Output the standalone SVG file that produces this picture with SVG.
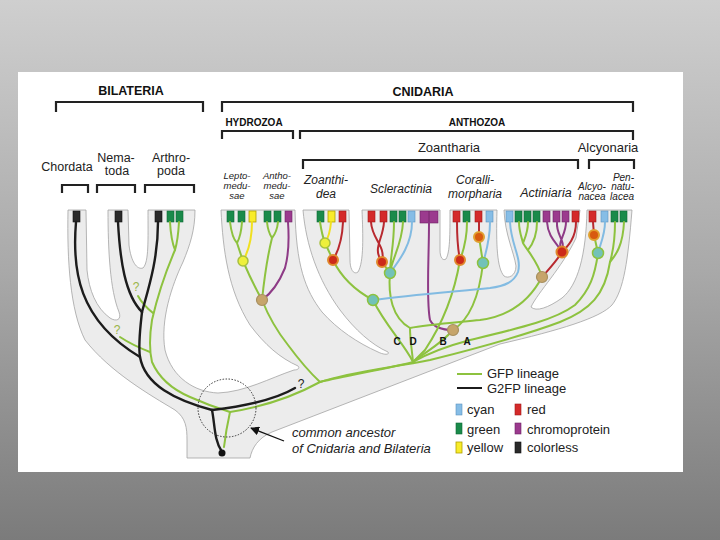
<svg xmlns="http://www.w3.org/2000/svg" width="720" height="540" viewBox="0 0 720 540">
<defs>
<linearGradient id="bg" x1="0" y1="0" x2="0" y2="1">
<stop offset="0" stop-color="#cfcfcf"/><stop offset="0.5" stop-color="#a9a9a9"/><stop offset="1" stop-color="#7b7b7b"/>
</linearGradient>
<marker id="ah" viewBox="0 0 10 10" refX="9" refY="5" markerWidth="9" markerHeight="9" markerUnits="userSpaceOnUse" orient="auto"><path d="M0 0 L10 5 L0 10 Z" fill="#111"/></marker>
<style>
.hd{font-family:"Liberation Sans",Arial,sans-serif;font-weight:bold;fill:#111;text-anchor:middle}
.tx{font-family:"Liberation Sans",Arial,sans-serif;fill:#222;text-anchor:middle}
.it{font-family:"Liberation Sans",Arial,sans-serif;font-style:italic;fill:#222;text-anchor:middle}
.ite{font-family:"Liberation Sans",Arial,sans-serif;font-style:italic;fill:#222;text-anchor:end}
.its{font-family:"Liberation Sans",Arial,sans-serif;font-style:italic;fill:#222;text-anchor:start}
.br{fill:none;stroke:#222;stroke-width:2.2}
.sil{fill:#ececec;stroke:#a3a3a3;stroke-width:0.8}
.g{fill:none;stroke:#8dc23f;stroke-width:2;stroke-linecap:round}
.b{fill:none;stroke:#1c1c1c;stroke-width:2.4;stroke-linecap:round}
.r{fill:none;stroke:#b8292f;stroke-width:2;stroke-linecap:round}
.p{fill:none;stroke:#8e3b86;stroke-width:2;stroke-linecap:round}
.c{fill:none;stroke:#82bbe2;stroke-width:2;stroke-linecap:round}
.y{fill:none;stroke:#f0e020;stroke-width:2;stroke-linecap:round}
.bg{fill:#1a8a4a;stroke:#0f6a35;stroke-width:0.6}
.bc{fill:#86bde6;stroke:#5a93c0;stroke-width:0.6}
.brd{fill:#d42a2a;stroke:#a01818;stroke-width:0.6}
.by{fill:#f8ec2a;stroke:#b0a000;stroke-width:0.8}
.bp{fill:#9b3a8e;stroke:#6e2466;stroke-width:0.6}
.bk{fill:#2a2a2a;stroke:#111;stroke-width:0.6}
.ny{fill:#eef03c;stroke:#a8c040;stroke-width:1.5}
.nr{fill:#cc2a1a;stroke:#e0882c;stroke-width:2}
.no{fill:#d85a10;stroke:#e0a030;stroke-width:2}
.nc{fill:#72c2b8;stroke:#8dc23f;stroke-width:1.5}
.nt{fill:#c6a56b;stroke:#a89060;stroke-width:1.2}
.lg{font-family:"Liberation Sans",Arial,sans-serif;font-size:13px;fill:#222}
.q{font-family:"Liberation Sans",Arial,sans-serif;font-size:12px;fill:#9ab548;text-anchor:middle}
.lb{font-family:"Liberation Sans",Arial,sans-serif;font-size:10px;font-weight:bold;fill:#111;text-anchor:middle}
</style>
</defs>
<rect x="0" y="0" width="720" height="540" fill="url(#bg)"/>
<rect x="18" y="72" width="665" height="400" fill="#fff"/>

<g id="silhouette">
<path class="sil" d="M187 458 L250 458 C252 448 258 438 272 432 L500 344 C560 330 600 318 612 305 C624 290 628 260 632 210 L587 210 C586 255 578 285 562 298 C548 308 536 312 531 307 C538 292 562 268 576 238 L580 210 L504 210 C505 235 514 252 516 266 C516 276 508 279 504 276 C497 268 496 245 497 210 L450 210 C450 235 450 252 446 259 C443 261 440 258 440 250 L440 210 L362 210 C363 235 364 262 358 272 C354 275 350 270 350 260 L349 210 L303 210 C306 245 318 280 340 310 C355 330 372 345 388 352 C390 355 384 355 378 352 C358 343 338 330 322 312 C305 290 296 265 295 210 L221 210 C223 250 228 290 250 325 C265 345 280 358 298 366 C300 368 298 370 294 370 C270 378 245 392 218 393 C195 392 172 378 165 350 C160 320 172 285 183 262 C190 245 195 230 195 210 L148 210 C148 240 149 262 143 268 C137 270 131 262 129 245 L128 210 L108 210 C108 250 110 290 119 312 C122 320 116 322 110 318 C96 308 89 290 87 270 L86 210 L68 210 C67 260 70 310 85 340 C110 372 150 395 175 410 C186 418 187 428 187 440 Z"/>
</g>

<g id="headers">
<text class="hd" x="131" y="95" font-size="12.5">BILATERIA</text>
<path class="br" d="M56 112 V102 H203 V112"/>
<text class="hd" x="423" y="96" font-size="12.5">CNIDARIA</text>
<path class="br" d="M222 112 V102 H633 V112"/>
<text class="hd" x="254" y="126" font-size="10">HYDROZOA</text>
<path class="br" d="M222 139 V131 H293 V139"/>
<text class="hd" x="477" y="126" font-size="10">ANTHOZOA</text>
<path class="br" d="M300 139 V131 H633 V140"/>
<text class="tx" x="449" y="152" font-size="13">Zoantharia</text>
<path class="br" d="M303 169 V160 H578 V169"/>
<text class="tx" x="608" y="152" font-size="13">Alcyonaria</text>
<path class="br" d="M589 169 V160 H634 V169"/>
</g>

<g id="chordata">
<text class="tx" x="67" y="171" font-size="12.5">Chordata</text>
<path class="br" d="M62 193 V185 H88 V193"/>
<rect class="bk" x="73" y="211" width="7" height="11"/>
</g>
<g id="nematoda">
<text class="tx" x="116" y="162" font-size="12.5">Nema-</text>
<text class="tx" x="117" y="175" font-size="12.5">toda</text>
<path class="br" d="M97 193 V185 H135 V193"/>
<rect class="bk" x="115" y="211" width="7" height="11"/>
</g>
<g id="arthropoda">
<text class="tx" x="171" y="162" font-size="12.5">Arthro-</text>
<text class="tx" x="171" y="175" font-size="12.5">poda</text>
<path class="br" d="M145 193 V185 H194 V193"/>
<rect class="bk" x="155" y="211" width="7" height="11"/>
<rect class="bg" x="167" y="211" width="7" height="11"/>
<rect class="bg" x="176" y="211" width="7" height="11"/>
</g>

<g id="hydrozoa">
<text class="it" x="237" y="179" font-size="9.5">Lepto-</text>
<text class="it" x="237" y="189" font-size="9.5">medu-</text>
<text class="it" x="237" y="199" font-size="9.5">sae</text>
<text class="it" x="277" y="179" font-size="9.5">Antho-</text>
<text class="it" x="277" y="189" font-size="9.5">medu-</text>
<text class="it" x="277" y="199" font-size="9.5">sae</text>
<rect class="bg" x="227" y="211" width="7" height="11"/>
<rect class="bg" x="238" y="211" width="7" height="11"/>
<rect class="by" x="249" y="211" width="7" height="11"/>
<rect class="bg" x="264" y="211" width="7" height="11"/>
<rect class="bg" x="274" y="211" width="7" height="11"/>
<rect class="bp" x="285" y="211" width="7" height="11"/>
</g>
<g id="zoanthidea">
<text class="it" x="326" y="184" font-size="12">Zoanthi-</text>
<text class="it" x="326" y="198" font-size="12">dea</text>
<rect class="bg" x="317" y="211" width="7" height="11"/>
<rect class="by" x="328" y="211" width="7" height="11"/>
<rect class="brd" x="339" y="211" width="7" height="11"/>
</g>
<g id="scleractinia">
<text class="it" x="401" y="193" font-size="12">Scleractinia</text>
<rect class="brd" x="368" y="211" width="7" height="11"/>
<rect class="brd" x="380" y="211" width="7" height="11"/>
<rect class="bg" x="390" y="211" width="7" height="11"/>
<rect class="bg" x="399" y="211" width="7" height="11"/>
<rect class="bc" x="408" y="211" width="7" height="11"/>
<rect class="bp" x="420" y="211" width="18" height="12"/>
<line x1="429" y1="211" x2="429" y2="223" stroke="#6e2466" stroke-width="0.8"/>
</g>
<g id="corallimorpharia">
<text class="it" x="475" y="184" font-size="12">Coralli-</text>
<text class="it" x="475" y="198" font-size="12">morpharia</text>
<rect class="brd" x="453" y="211" width="7" height="11"/>
<rect class="bg" x="463" y="211" width="7" height="11"/>
<rect class="brd" x="475" y="211" width="7" height="11"/>
<rect class="bc" x="486" y="211" width="7" height="11"/>
</g>
<g id="actiniaria">
<text class="it" x="546" y="197" font-size="12.5">Actiniaria</text>
<rect class="bc" x="506" y="211" width="7" height="11"/>
<rect class="bg" x="515" y="211" width="7" height="11"/>
<rect class="bg" x="524" y="211" width="7" height="11"/>
<rect class="bg" x="533" y="211" width="7" height="11"/>
<rect class="bp" x="543" y="211" width="7" height="11"/>
<rect class="bp" x="553" y="211" width="7" height="11"/>
<rect class="bp" x="562" y="211" width="7" height="11"/>
<rect class="brd" x="572" y="211" width="7" height="11"/>
</g>
<g id="alcyonacea">
<text class="it" x="592" y="190" font-size="10">Alcyo-</text>
<text class="it" x="592" y="200" font-size="10">nacea</text>
<rect class="brd" x="589" y="211" width="7" height="11"/>
<rect class="bc" x="601" y="211" width="7" height="11"/>
</g>
<g id="pennatulacea">
<text class="ite" x="634" y="181" font-size="10">Pen-</text>
<text class="ite" x="634" y="190" font-size="10">natu-</text>
<text class="ite" x="634" y="200" font-size="10">lacea</text>
<rect class="bg" x="611" y="211" width="7" height="11"/>
<rect class="bg" x="620" y="211" width="7" height="11"/>
</g>

<g id="connectors">
<path class="g" d="M170 222 Q171 240 175 250 M179 222 Q178 240 175 250"/>
<path class="g" d="M175 250 Q160 285 152 320 Q148 345 152 362 Q162 385 190 397 Q210 406 230 412"/>
<path class="g" d="M138 296 Q143 305 153 313"/>
<path class="g" d="M120 337 Q132 345 150 352"/>
<path class="g" d="M224 447 Q226 430 230 412"/>
<path class="g" d="M230 412 Q280 404 320 382"/>
<path class="b" d="M76 222 C72 270 78 320 140 357"/>
<path class="b" d="M118 222 C120 260 125 295 142 312"/>
<path class="b" d="M158 222 C158 260 148 290 142 312"/>
<path class="b" d="M142 312 C140 330 138 345 140 357 C145 385 175 400 212 410"/>
<path class="b" d="M212 410 C215 425 214 440 222 452"/>
<path class="b" d="M212 410 C245 406 275 400 295 388"/>
<circle cx="222" cy="453" r="3.5" fill="#111"/>
<path class="g" d="M230 222 Q232 238 237 243 M242 222 Q241 236 237 243 M237 243 Q240 252 243 261"/>
<path class="y" d="M252 222 Q252 245 243 261"/>
<path class="g" d="M243 261 Q252 282 262 300"/>
<path class="g" d="M267 222 Q268 232 272 238 M278 222 Q277 232 272 238 M272 238 Q266 262 262 300"/>
<path class="p" d="M288 222 Q290 250 285 268 Q276 290 262 300"/>
<path class="g" d="M262 300 Q272 325 288 345 Q305 368 320 382"/>
<path class="g" d="M320 222 Q322 235 325 243"/>
<path class="y" d="M331 222 Q330 235 325 243"/>
<path class="g" d="M325 243 L333 260"/>
<path class="r" d="M343 222 Q342 245 333 260"/>
<path class="g" d="M333 260 Q345 285 373 300"/>
<path class="r" d="M371 222 C372 240 386 245 382 262 M384 222 C383 240 372 248 382 262"/>
<path class="g" d="M394 222 C394 245 390 260 390 273 M403 222 C402 245 392 258 390 273"/>
<path class="c" d="M412 222 C412 245 398 262 390 273"/>
<path class="g" d="M382 262 L390 273"/>
<path class="g" d="M390 273 C388 295 392 318 410 328"/>
<path class="p" d="M429 223 C429 260 426 300 430 320 C434 328 445 330 453 330"/>
<path class="r" d="M457 222 C457 240 458 250 460 260"/>
<path class="g" d="M467 222 C467 240 463 252 460 260"/>
<path class="r" d="M479 222 L479 237"/>
<path class="c" d="M490 222 C490 240 486 252 483 263"/>
<path class="g" d="M479 237 L483 263"/>
<path class="g" d="M460 260 C455 290 445 320 425 350 L413 362"/>
<path class="g" d="M483 263 C480 290 472 318 453 330"/>
<path class="g" d="M453 330 C440 345 425 352 413 362"/>
<path class="c" d="M510 222 C511 245 522 258 518 272 C514 282 505 286 490 288 C450 292 410 295 373 300"/>
<path class="g" d="M519 222 C519 232 522 238 523 243 M528 222 C528 232 525 238 523 243 M537 222 C537 235 532 245 528 250 M523 243 C527 250 538 262 542 277"/>
<path class="p" d="M547 222 C548 238 558 244 562 252 M557 222 C556 236 566 240 562 252 M566 222 C566 236 556 242 562 252"/>
<path class="r" d="M576 222 C576 238 568 246 562 252 M562 252 C556 262 548 270 542 277"/>
<path class="g" d="M542 277 C530 300 510 316 480 320 C450 323 425 325 410 328"/>
<path class="r" d="M593 222 L594 235"/>
<path class="c" d="M605 222 C605 235 600 245 598 253"/>
<path class="g" d="M594 235 L598 253"/>
<path class="g" d="M598 253 C595 275 590 290 575 305 C555 320 520 328 470 340 C440 348 425 355 413 362"/>
<path class="g" d="M615 222 C615 245 612 255 610 262 M624 222 C623 245 616 255 610 262"/>
<path class="g" d="M610 262 C605 295 590 310 560 322 C520 337 470 350 430 360 C390 368 350 372 320 382"/>
<path class="g" d="M320 382 C350 375 390 368 413 362"/>
<path class="g" d="M413 362 C412 350 410 340 410 328"/>
<path class="g" d="M413 362 C405 345 385 325 373 300"/>
<circle cx="227" cy="408" r="29" fill="none" stroke="#333" stroke-width="1" stroke-dasharray="1.5 1.5"/>
<line x1="284" y1="441" x2="251" y2="428" stroke="#111" stroke-width="1.3" marker-end="url(#ah)"/>
</g>

<g id="nodes">
<circle class="ny" cx="243" cy="261" r="5"/>
<circle class="nt" cx="262" cy="300" r="5.5"/>
<circle class="ny" cx="325" cy="243" r="5"/>
<circle class="nr" cx="333" cy="260" r="5"/>
<circle class="nr" cx="382" cy="262" r="5"/>
<circle class="nc" cx="390" cy="273" r="5.5"/>
<circle class="nc" cx="373" cy="300" r="5.5"/>
<circle class="nr" cx="460" cy="260" r="5"/>
<circle class="no" cx="479" cy="237" r="5"/>
<circle class="nc" cx="483" cy="263" r="5.5"/>
<circle class="nt" cx="453" cy="330" r="5.5"/>
<circle class="nr" cx="562" cy="252" r="5.5"/>
<circle class="nt" cx="542" cy="277" r="5.5"/>
<circle class="no" cx="594" cy="235" r="5"/>
<circle class="nc" cx="598" cy="253" r="5.5"/>
</g>

<g id="labels">
<text class="q" x="136" y="291">?</text>
<text class="q" x="117" y="334">?</text>
<text class="tx" x="301" y="388" font-size="12">?</text>
<text class="lb" x="397" y="345">C</text>
<text class="lb" x="413" y="345">D</text>
<text class="lb" x="443" y="345">B</text>
<text class="lb" x="467" y="345">A</text>
<text class="its" x="292" y="437" font-size="13">common ancestor</text>
<text class="its" x="292" y="453" font-size="13">of Cnidaria and Bilateria</text>
</g>

<g id="legend">
<line x1="457" y1="374" x2="482" y2="374" stroke="#8dc23f" stroke-width="2"/>
<text class="lg" x="487" y="378">GFP lineage</text>
<line x1="457" y1="388" x2="482" y2="388" stroke="#1c1c1c" stroke-width="2"/>
<text class="lg" x="487" y="393">G2FP lineage</text>
<rect class="bc" x="456" y="404" width="6" height="11"/>
<text class="lg" x="467" y="414">cyan</text>
<rect class="brd" x="515" y="404" width="6" height="11"/>
<text class="lg" x="527" y="414">red</text>
<rect class="bg" x="456" y="423" width="6" height="11"/>
<text class="lg" x="467" y="434">green</text>
<rect class="bp" x="515" y="423" width="6" height="11"/>
<text class="lg" x="527" y="434">chromoprotein</text>
<rect class="by" x="456" y="442" width="6" height="11"/>
<text class="lg" x="467" y="452">yellow</text>
<rect class="bk" x="515" y="442" width="6" height="11"/>
<text class="lg" x="527" y="452">colorless</text>
</g>
</svg>
